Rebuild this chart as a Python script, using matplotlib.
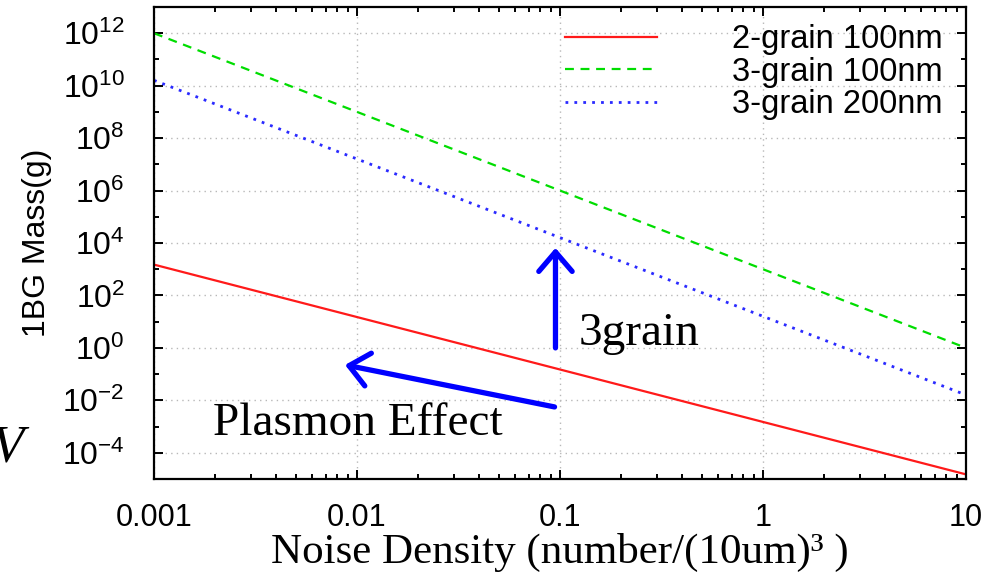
import matplotlib
matplotlib.use('Agg')
import matplotlib.pyplot as plt
from matplotlib.ticker import FixedLocator, LogLocator, LogFormatterSciNotation, FixedFormatter

plt.rcParams['font.family'] = ['Liberation Sans', 'DejaVu Sans']
plt.rcParams['mathtext.fontset'] = 'custom'
plt.rcParams['mathtext.rm'] = 'Liberation Sans'

# noise density (number/(10um)^3)
density = [0.001, 0.01, 0.1, 1, 10]
# 1BG mass (g) at each decade
mass_2grain_100 = [1.5e3, 1.5e1, 1.5e-1, 1.5e-3, 1.5e-5]
mass_3grain_100 = [1e12, 1e9, 1e6, 1e3, 1e0]
mass_3grain_200 = [1.6e10, 1.6e7, 1.6e4, 1.6e1, 1.6e-2]

x_ticks = [0.001, 0.01, 0.1, 1, 10]
x_tick_labels = ['0.001', '0.01', '0.1', '1', '10']
y_ticks = [1e-4, 1e-2, 1e0, 1e2, 1e4, 1e6, 1e8, 1e10, 1e12]
y_minor = [1e-5, 1e-3, 1e-1, 1e1, 1e3, 1e5, 1e7, 1e9, 1e11, 1e13]

# annotations (data coords)
arrow_3grain = ((0.095, 1.0), (0.095, 6.5e3))
arrow_plasmon = ((0.094, 5.6e-3), (0.00873, 0.224))
label_3grain = (0.123, 1.3)
label_plasmon = (0.00195, 4.9e-4)

fig = plt.figure(figsize=(9.92, 5.74), dpi=100)
ax = fig.add_axes([154/992, 1-479/574, 812/992, 472/574])

ax.loglog(density, mass_2grain_100, color='#ff1a1a', lw=1.6, label='2-grain 100nm')
ax.loglog(density, mass_3grain_100, color='#00dd00', lw=1.6, ls=(0, (4, 3)), label='3-grain 100nm')
ax.loglog(density, mass_3grain_200, color='#2a2aff', lw=2.0, ls=(0, (1, 2.2)), label='3-grain 200nm')

ax.set_xlim(0.001, 10)
ax.set_ylim(1e-5, 1e13)

ax.xaxis.set_major_locator(FixedLocator(x_ticks))
ax.xaxis.set_major_formatter(FixedFormatter(x_tick_labels))
ax.xaxis.set_minor_locator(LogLocator(base=10, subs=range(2, 10)))
ax.xaxis.set_minor_formatter(FixedFormatter([]))
ax.yaxis.set_major_locator(FixedLocator(y_ticks))
ax.yaxis.set_major_formatter(LogFormatterSciNotation())
ax.yaxis.set_minor_locator(FixedLocator(y_minor))
ax.yaxis.set_minor_formatter(FixedFormatter([]))

ax.grid(True, which='major', color='#b8b8b8', ls=(0, (1, 3)), lw=1.0)
ax.tick_params(which='both', direction='in', top=True, right=True, width=1.4)
ax.tick_params(which='major', length=6.5)
ax.tick_params(which='minor', length=3.6)
ax.tick_params(axis='y', which='major', labelsize=23, pad=21)
ax.tick_params(axis='x', which='major', labelsize=22, pad=17)
for s in ax.spines.values():
    s.set_linewidth(1.6)

ax.set_ylabel('1BG Mass(g)', fontsize=23)
ax.yaxis.set_label_coords(-0.126, 0.5)
ax.set_xlabel('Noise Density (number/(10um)³ )', family=['Liberation Serif', 'DejaVu Serif'], fontsize=31)
ax.xaxis.label.set_va('baseline')
ax.xaxis.set_label_coords(0.5, -0.178)

leg = ax.legend(loc='upper right', bbox_to_anchor=(0.995, 1.005), frameon=False, fontsize=23.5,
                handlelength=2.8, handletextpad=2.3, labelspacing=0.05, borderaxespad=0.2)

ap = dict(arrowstyle='->,head_length=0.7,head_width=0.6', color='#0000ff', lw=3.8,
          mutation_scale=20, shrinkA=0, shrinkB=0)
ax.annotate('', xy=arrow_3grain[1], xytext=arrow_3grain[0], arrowprops=ap)
ax.annotate('', xy=arrow_plasmon[1], xytext=arrow_plasmon[0], arrowprops=ap)
ax.text(*label_3grain, '3grain', family=['Liberation Serif'], fontsize=34, va='baseline')
ax.text(*label_plasmon, 'Plasmon Effect', family=['Liberation Serif'], fontsize=34, va='baseline')

fig.text(23/992, 1-462/574, 'V', family=['Liberation Serif'], style='italic', fontsize=38,
         ha='right', va='baseline')

fig.savefig('out.png', dpi=100)
